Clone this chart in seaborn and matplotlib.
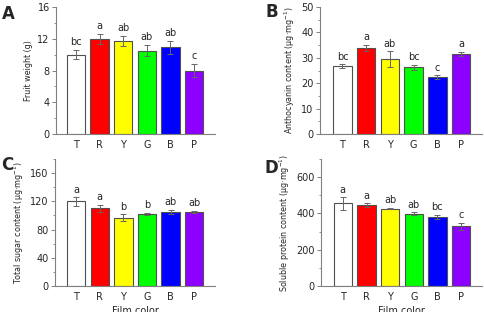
import matplotlib
matplotlib.use('Agg')
import matplotlib.pyplot as plt
from matplotlib.ticker import MultipleLocator, AutoMinorLocator
import seaborn as sns
import pandas as pd

films = ['T', 'R', 'Y', 'G', 'B', 'P']
film_colors = ['#FFFFFF', '#FF0000', '#FFFF00', '#00FF00', '#0000FF', '#8B00FF']

fruit_weight = [10.0, 12.0, 11.7, 10.5, 10.9, 8.0]
fruit_weight_sd = [0.6, 0.6, 0.6, 0.7, 0.8, 0.8]
fruit_weight_sig = ['bc', 'a', 'ab', 'ab', 'ab', 'c']

anthocyanin = [26.7, 33.8, 29.5, 26.2, 22.5, 31.6]
anthocyanin_sd = [0.8, 1.3, 3.0, 1.0, 0.7, 0.7]
anthocyanin_sig = ['bc', 'a', 'ab', 'bc', 'c', 'a']

sugar = [120, 110, 97, 102, 105, 105]
sugar_sd = [6, 5, 5, 2, 3, 2]
sugar_sig = ['a', 'a', 'b', 'b', 'ab', 'ab']

protein = [455, 445, 427, 398, 382, 330]
protein_sd = [35, 12, 5, 8, 10, 20]
protein_sig = ['a', 'a', 'ab', 'ab', 'bc', 'c']

sns.set_style('white')
plt.rcParams['font.family'] = ['Liberation Sans Narrow', 'DejaVu Sans']

fig = plt.figure(figsize=(4.84, 3.12), dpi=100)

panels = [
    ('A', [0.1157, 0.5705, 0.3285, 0.407], fruit_weight, fruit_weight_sd, fruit_weight_sig,
     'Fruit weight (g)', 16, 4, 0.4, (-0.85, 5.89)),
    ('B', [0.661, 0.5705, 0.335, 0.407], anthocyanin, anthocyanin_sd, anthocyanin_sig,
     'Anthocyanin content (μg·mg$^{-1}$)', 50, 10, 1.0, (-0.95, 5.89)),
    ('C', [0.1136, 0.0833, 0.331, 0.407], sugar, sugar_sd, sugar_sig,
     'Total sugar content (μg·mg$^{-1}$)', 180, 40, 3.5, (-0.9, 5.89)),
    ('D', [0.663, 0.0833, 0.333, 0.407], protein, protein_sd, protein_sig,
     'Soluble protein content (μg·mg$^{-1}$)', 700, 200, 14, (-0.93, 5.89)),
]

for letter, pos, vals, sds, sig, ylabel, ymax, step, off, xlim in panels:
    ax = fig.add_axes(pos)
    df = pd.DataFrame({'film': films, 'value': vals})
    sns.barplot(data=df, x='film', y='value', hue='film', palette=film_colors,
                legend=False, errorbar=None, width=0.78, saturation=1,
                edgecolor='#505050', linewidth=0.8, ax=ax)
    ax.errorbar(range(len(films)), vals, yerr=sds, fmt='none', ecolor='#666666',
                elinewidth=0.7, capsize=2, capthick=0.7)
    for i, s in enumerate(sig):
        ax.text(i, vals[i] + sds[i] + off, s, ha='center', va='bottom', fontsize=7)
    ax.set_ylim(0, ymax)
    ax.set_xlim(*xlim)
    ax.yaxis.set_major_locator(MultipleLocator(step))
    ax.yaxis.set_minor_locator(AutoMinorLocator(2))
    ax.tick_params(axis='y', which='major', direction='out', length=3, width=0.7,
                   color='#808080', labelsize=7, pad=1.5, left=True)
    ax.tick_params(axis='y', which='minor', direction='out', length=1.5, width=0.6,
                   color='#808080', left=True)
    ax.tick_params(axis='x', length=0, labelsize=7, pad=4)
    for side in ['top', 'right']:
        ax.spines[side].set_visible(False)
    for side in ['left', 'bottom']:
        ax.spines[side].set_color('#808080')
        ax.spines[side].set_linewidth(0.8)
    ax.set_ylabel(ylabel, fontsize=5.8, labelpad=3)
    if letter in ('C', 'D'):
        ax.set_xlabel('Film color', fontsize=7, labelpad=3)
    else:
        ax.set_xlabel('')

fig.text(0.005, 0.955, 'A', fontsize=12, fontweight='bold', va='center')
fig.text(0.548, 0.962, 'B', fontsize=12, fontweight='bold', va='center')
fig.text(0.002, 0.472, 'C', fontsize=12, fontweight='bold', va='center')
fig.text(0.546, 0.462, 'D', fontsize=12, fontweight='bold', va='center')

fig.savefig('out.png', dpi=100)
